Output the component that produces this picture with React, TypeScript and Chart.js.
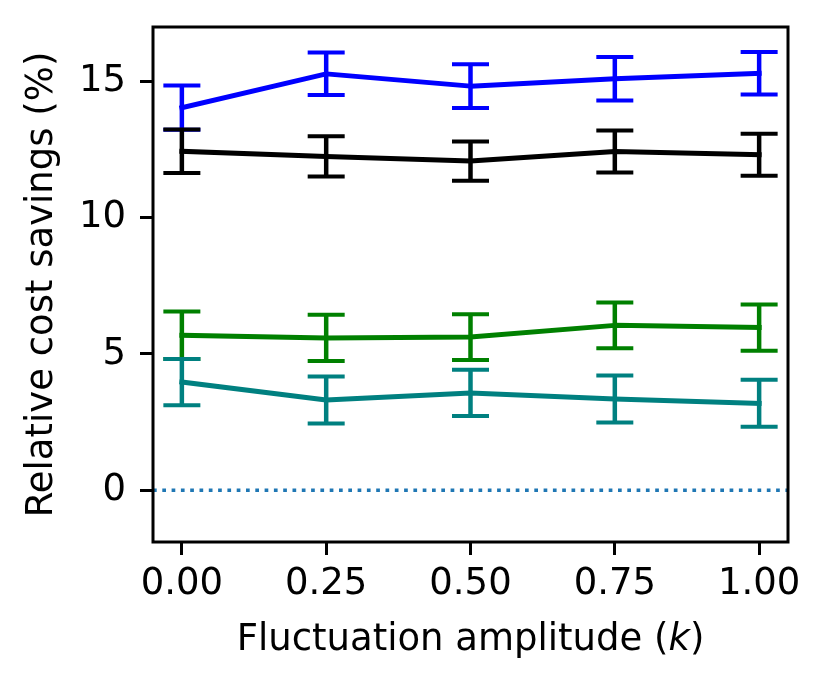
import { useEffect, useRef } from "react";
import { Chart, registerables } from "chart.js";

Chart.register(...registerables);

// ---- data ----
const amplitudes = [0, 0.25, 0.5, 0.75, 1.0];
const xTickValues = [0, 0.25, 0.5, 0.75, 1.0];
const yTickValues = [0, 5, 10, 15];
const referenceLevel = 0;

const blueMean = [14.04, 15.28, 14.83, 15.1, 15.3];
const blueErr = [0.81, 0.78, 0.8, 0.8, 0.78];
const blackMean = [12.44, 12.25, 12.08, 12.43, 12.31];
const blackErr = [0.8, 0.74, 0.72, 0.77, 0.77];
const greenMean = [5.69, 5.59, 5.62, 6.05, 5.97];
const greenErr = [0.87, 0.85, 0.84, 0.84, 0.85];
const tealMean = [3.97, 3.31, 3.57, 3.35, 3.19];
const tealErr = [0.85, 0.86, 0.85, 0.86, 0.86];

const xTitleMain = "Fluctuation amplitude (";
const xTitleVar = "k";
const xTitleEnd = ")";
const yTitle = "Relative cost savings (%)";

const FONT = '"DejaVu Sans", sans-serif';
const FONT_SIZE = 37;

function toPoints(xs: number[], ys: number[]) {
  return xs.map((x, i) => ({ x, y: ys[i] }));
}

export default function App() {
  const ref = useRef<HTMLCanvasElement>(null);

  useEffect(() => {
    const canvas = ref.current;
    if (!canvas) return;

    const errorBarPlugin = {
      id: "errorBars",
      afterDatasetDraw(chart: any, args: any) {
        const ds = chart.data.datasets[args.index] as any;
        if (!ds.errors) return;
        const ctx = chart.ctx as CanvasRenderingContext2D;
        const xs = chart.scales.x;
        const ys = chart.scales.y;
        const capHalf = 18.5;
        ctx.save();
        ctx.strokeStyle = ds.borderColor;
        ds.data.forEach((p: any, i: number) => {
          const e = ds.errors[i];
          const px = xs.getPixelForValue(p.x);
          const top = ys.getPixelForValue(p.y + e);
          const bot = ys.getPixelForValue(p.y - e);
          ctx.lineCap = "butt";
          ctx.lineWidth = 4.5;
          ctx.beginPath();
          ctx.moveTo(px, top);
          ctx.lineTo(px, bot);
          ctx.stroke();
          ctx.lineWidth = 4;
          ctx.beginPath();
          ctx.moveTo(px - capHalf, top);
          ctx.lineTo(px + capHalf, top);
          ctx.moveTo(px - capHalf, bot);
          ctx.lineTo(px + capHalf, bot);
          ctx.stroke();
        });
        ctx.restore();
      },
    };

    const refLinePlugin = {
      id: "refLine",
      beforeDatasetsDraw(chart: any) {
        const ctx = chart.ctx as CanvasRenderingContext2D;
        const { left, right, top, bottom } = chart.chartArea;
        const y = chart.scales.y.getPixelForValue(referenceLevel);
        ctx.save();
        ctx.beginPath();
        ctx.rect(left, top, right - left, bottom - top);
        ctx.clip();
        ctx.strokeStyle = "#1f77b4";
        ctx.lineWidth = 3.7;
        ctx.setLineDash([3.7, 5.6]);
        ctx.lineCap = "butt";
        ctx.beginPath();
        ctx.moveTo(left, y);
        ctx.lineTo(right, y);
        ctx.stroke();
        ctx.restore();
      },
    };

    const framePlugin = {
      id: "frame",
      afterDraw(chart: any) {
        const ctx = chart.ctx as CanvasRenderingContext2D;
        const { left, right, top, bottom } = chart.chartArea;
        ctx.save();
        ctx.strokeStyle = "#000";
        ctx.lineWidth = 3;
        ctx.lineJoin = "miter";
        ctx.strokeRect(left, top, right - left, bottom - top);

        // x axis title with italic variable
        ctx.fillStyle = "#000";
        ctx.textBaseline = "alphabetic";
        ctx.textAlign = "left";
        const normal = `${FONT_SIZE}px ${FONT}`;
        const italic = `italic ${FONT_SIZE}px ${FONT}`;
        ctx.font = normal;
        const w1 = ctx.measureText(xTitleMain).width;
        const w3 = ctx.measureText(xTitleEnd).width;
        ctx.font = italic;
        const w2 = ctx.measureText(xTitleVar).width;
        const total = w1 + w2 + w3;
        let x = (left + right) / 2 - total / 2;
        const y = bottom + 108;
        ctx.font = normal;
        ctx.fillText(xTitleMain, x, y);
        x += w1;
        ctx.font = italic;
        ctx.fillText(xTitleVar, x, y);
        x += w2;
        ctx.font = normal;
        ctx.fillText(xTitleEnd, x, y);
        ctx.restore();
      },
    };

    const lineDs = (label: string, color: string, mean: number[], err: number[]) => ({
      label,
      data: toPoints(amplitudes, mean),
      errors: err,
      borderColor: color,
      backgroundColor: color,
      borderWidth: 5,
      borderCapStyle: "square" as const,
      borderJoinStyle: "round" as const,
      pointRadius: 0,
      pointHoverRadius: 0,
      fill: false,
      tension: 0,
    });

    const chart = new Chart(canvas, {
      type: "line",
      data: {
        datasets: [
          lineDs("teal", "#008080", tealMean, tealErr),
          lineDs("green", "#008000", greenMean, greenErr),
          lineDs("black", "#000000", blackMean, blackErr),
          lineDs("blue", "#0000ff", blueMean, blueErr),
        ] as any,
      },
      options: {
        responsive: false,
        animation: false,
        events: [],
        layout: { padding: { top: 27, right: 41, left: 0, bottom: 0 } },
        plugins: {
          legend: { display: false },
          tooltip: { enabled: false },
          title: { display: false },
        },
        scales: {
          x: {
            type: "linear",
            min: -0.05,
            max: 1.05,
            afterBuildTicks: (scale: any) => {
              scale.ticks = xTickValues.map((v) => ({ value: v }));
            },
            afterFit: (scale: any) => {
              scale.height = 148;
              scale.paddingLeft = 0;
              scale.paddingRight = 0;
              scale.paddingTop = 0;
              scale.paddingBottom = 0;
            },
            ticks: {
              color: "#000",
              font: { size: FONT_SIZE, family: FONT },
              padding: 7,
              maxRotation: 0,
              autoSkip: false,
              callback: (v: any) => Number(v).toFixed(2),
            },
            grid: {
              display: true,
              drawOnChartArea: false,
              drawTicks: true,
              tickLength: 13,
              tickWidth: 3,
              tickColor: "#000",
              color: "#000",
              lineWidth: 3,
            },
            border: { display: false },
          },
          y: {
            type: "linear",
            min: -1.9,
            max: 17,
            afterBuildTicks: (scale: any) => {
              scale.ticks = yTickValues.map((v) => ({ value: v }));
            },
            afterFit: (scale: any) => {
              scale.width = 153;
              scale.paddingLeft = 0;
              scale.paddingRight = 0;
              scale.paddingTop = 0;
              scale.paddingBottom = 0;
            },
            ticks: {
              color: "#000",
              font: { size: FONT_SIZE, family: FONT },
              padding: 14,
              callback: (v: any) => String(v),
            },
            grid: {
              display: true,
              drawOnChartArea: false,
              drawTicks: true,
              tickLength: 13,
              tickWidth: 3,
              tickColor: "#000",
              color: "#000",
              lineWidth: 3,
            },
            border: { display: false },
            title: {
              display: true,
              text: yTitle,
              color: "#000",
              font: { size: FONT_SIZE, family: FONT },
              padding: { top: 20, bottom: 0 },
            },
          },
        },
      },
      plugins: [refLinePlugin, errorBarPlugin, framePlugin],
    });

    return () => chart.destroy();
  }, []);

  return (
    <div
      style={{
        position: "absolute",
        left: 0,
        top: 0,
        width: 829,
        height: 690,
        background: "#fff",
      }}
    >
      <canvas
        ref={ref}
        width={829}
        height={690}
        style={{ display: "block", width: 829, height: 690 }}
      />
    </div>
  );
}
